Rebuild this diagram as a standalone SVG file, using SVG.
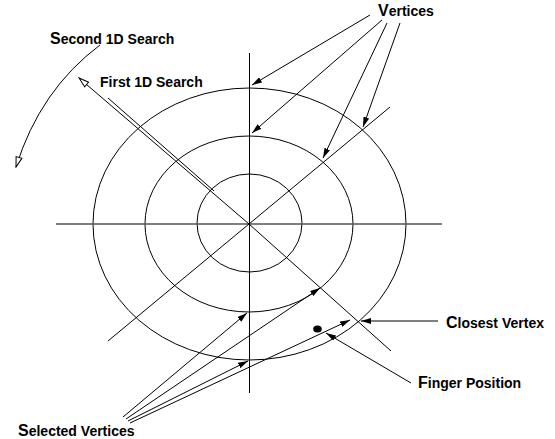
<svg xmlns="http://www.w3.org/2000/svg" width="555" height="439" viewBox="0 0 555 439">
<style>
.l{fill:none;stroke:#000;stroke-width:1}
.g{fill:none;stroke:#555;stroke-width:1.3}
.t{font-family:"Liberation Sans",Arial,sans-serif;font-weight:bold;font-size:14px;fill:#000}
.big{font-size:16px}
</style>
<defs>
<marker id="ah" viewBox="0 0 10 6" refX="10" refY="3" markerWidth="10" markerHeight="6" orient="auto" markerUnits="userSpaceOnUse"><path d="M0,0 L10,3 L0,6 z" fill="#000"/></marker>
<marker id="ho" viewBox="-1 -1 12 8" refX="10" refY="3" markerWidth="12" markerHeight="8" orient="auto" markerUnits="userSpaceOnUse"><path d="M0,0 L10,3 L0,6 z" fill="#fff" stroke="#000" stroke-width="1"/></marker>
</defs>
<g id="grid">
<ellipse class="l" cx="249.5" cy="224" rx="156.5" ry="136"/>
<ellipse class="l" cx="249" cy="224" rx="104" ry="88"/>
<ellipse class="l" cx="249.5" cy="223" rx="52.5" ry="49"/>
<line class="g" x1="56" y1="224" x2="442" y2="224"/>
<line class="l" x1="249.5" y1="53" x2="249.5" y2="393"/>
<line class="l" x1="108" y1="341" x2="390" y2="107"/>
<polyline class="l" points="391,351 249,224 79,78" marker-end="url(#ho)"/>
<line class="l" x1="108" y1="98" x2="214" y2="191"/>
</g>
<g id="finger-dot"><ellipse cx="317.5" cy="329" rx="4.3" ry="3.6" fill="#000"/></g>
<g id="connectors">
<path class="l" d="M100,45 Q40,90 16,167" marker-end="url(#ho)"/>
<line class="l" x1="370" y1="15" x2="252" y2="85" marker-end="url(#ah)"/>
<line class="l" x1="382" y1="20" x2="252" y2="133" marker-end="url(#ah)"/>
<line class="l" x1="387" y1="23" x2="323" y2="158" marker-end="url(#ah)"/>
<line class="l" x1="400" y1="23" x2="363" y2="127" marker-end="url(#ah)"/>
<line class="l" x1="123" y1="417" x2="247" y2="313" marker-end="url(#ah)"/>
<line class="l" x1="126" y1="419" x2="320" y2="288" marker-end="url(#ah)"/>
<line class="l" x1="128" y1="421" x2="248" y2="361" marker-end="url(#ah)"/>
<line class="l" x1="130" y1="423" x2="350" y2="320" marker-end="url(#ah)"/>
<line class="g" x1="438" y1="321" x2="361" y2="321" marker-end="url(#ah)"/>
<line class="l" x1="411" y1="383" x2="326" y2="333" marker-end="url(#ah)"/>
</g>
<g id="labels">
<text class="t" x="50" y="44"><tspan class="big">S</tspan>econd 1D Search</text>
<text class="t" x="100" y="87">First 1D Search</text>
<text class="t" x="378" y="16"><tspan class="big">V</tspan>ertices</text>
<text class="t" x="18" y="436"><tspan class="big">S</tspan>elected Vertices</text>
<text class="t" x="446" y="328"><tspan class="big">C</tspan>losest Vertex</text>
<text class="t" x="418" y="388"><tspan class="big">F</tspan>inger Position</text>
</g>
</svg>
